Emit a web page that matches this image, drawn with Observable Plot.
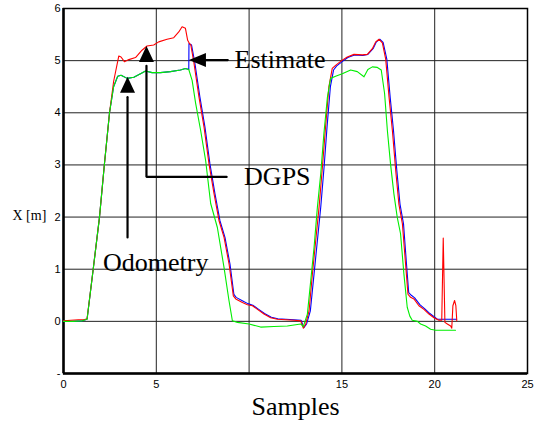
<!DOCTYPE html>
<html>
<head>
<meta charset="utf-8">
<script src="https://cdn.jsdelivr.net/npm/d3@7"></script>
<script src="https://cdn.jsdelivr.net/npm/@observablehq/plot@0.6"></script>
<style>
  html, body { margin: 0; padding: 0; background: #fff; }
  #chart { width: 538px; height: 421px; }
</style>
</head>
<body>
<div id="chart"></div>
<script>
// ---- Data ----
const xTicks = [0, 5, 10, 15, 20, 25];
const xTickLabels = ["0", "5", "", "15", "20", "25"];
const yTicks = [-1, 0, 1, 2, 3, 4, 5, 6];
const yTickLabels = ["-", "0", "1", "2", "3", "4", "5", "6"];

// DGPS (red)
const dgps = [
  [0, 0.01], [0.4, 0.02], [0.8, 0.03], [1.1, 0.03], [1.27, 0.05], [1.6, 1.0], [1.94, 2.0], [2.2, 3.0],
  [2.48, 4.0], [2.7, 4.6], [2.98, 5.09], [3.1, 5.07], [3.28, 4.98], [3.52, 5.02], [3.88, 5.06], [4.23, 5.2],
  [4.5, 5.28], [4.86, 5.30], [5.13, 5.36], [5.58, 5.41], [5.94, 5.44], [6.21, 5.55], [6.39, 5.65], [6.57, 5.62],
  [6.69, 5.39], [6.8, 5.32], [6.86, 5.30], [7.03, 4.95], [7.3, 4.30], [7.57, 3.73], [7.84, 3.02], [8.11, 2.45],
  [8.38, 1.93], [8.65, 1.61], [8.92, 1.10], [9.15, 0.49], [9.28, 0.43], [9.64, 0.36], [9.91, 0.32], [10.18, 0.30],
  [10.45, 0.23], [10.8, 0.14], [11.16, 0.07], [11.52, 0.04], [12.42, 0.02], [12.78, 0.01], [12.92, -0.13], [13.05, -0.05],
  [13.23, 0.20], [13.41, 0.91], [13.59, 1.55], [13.77, 2.19], [13.95, 2.96], [14.12, 3.73], [14.3, 4.50], [14.48, 4.85],
  [14.66, 4.91], [15.02, 5.01], [15.29, 5.07], [15.65, 5.12], [16.1, 5.11], [16.37, 5.12], [16.64, 5.23], [16.82, 5.36],
  [17.0, 5.41], [17.18, 5.34], [17.36, 5.03], [17.54, 4.30], [17.72, 3.66], [17.9, 2.89], [18.07, 2.25], [18.26, 1.87],
  [18.43, 1.10], [18.56, 0.52], [18.7, 0.46], [18.88, 0.43], [19.15, 0.30], [19.42, 0.23], [19.69, 0.14], [19.96, 0.07],
  [20.23, 0.02], [20.38, 0.02], [20.46, 1.6], [20.55, -0.02], [20.68, -0.05], [20.86, -0.09], [20.92, -0.13], [20.98, 0.30],
  [21.07, 0.40], [21.14, 0.30], [21.19, 0.01]
];

// Estimate (blue)
const estimate = [
  [0, 0.0], [0.5, 0.0], [1.0, 0.01], [1.27, 0.04], [1.6, 1.0], [1.94, 2.0], [2.2, 3.0], [2.48, 4.0],
  [2.7, 4.5], [2.92, 4.70], [3.1, 4.72], [3.43, 4.66], [3.79, 4.68], [4.15, 4.75], [4.42, 4.80], [4.77, 4.77],
  [5.22, 4.77], [5.76, 4.79], [6.3, 4.82], [6.57, 4.85], [6.75, 4.83], [6.76, 5.33], [6.9, 5.30], [7.08, 4.95],
  [7.35, 4.30], [7.62, 3.73], [7.89, 3.02], [8.16, 2.45], [8.43, 1.93], [8.7, 1.61], [8.97, 1.10], [9.18, 0.52],
  [9.3, 0.46], [9.66, 0.39], [9.93, 0.34], [10.2, 0.31], [10.48, 0.24], [10.83, 0.15], [11.2, 0.08], [11.55, 0.05],
  [12.42, 0.03], [12.8, 0.02], [12.95, -0.12], [13.1, -0.05], [13.3, 0.20], [13.5, 0.91], [13.68, 1.55], [13.86, 2.19],
  [14.04, 2.96], [14.2, 3.73], [14.38, 4.50], [14.55, 4.82], [14.72, 4.90], [15.05, 4.99], [15.32, 5.06], [15.68, 5.11],
  [16.12, 5.10], [16.4, 5.12], [16.68, 5.23], [16.86, 5.36], [17.04, 5.41], [17.22, 5.35], [17.42, 5.03], [17.6, 4.30],
  [17.78, 3.66], [17.96, 2.89], [18.13, 2.25], [18.32, 1.87], [18.48, 1.10], [18.6, 0.55], [18.74, 0.50], [18.92, 0.45],
  [19.2, 0.32], [19.47, 0.24], [19.74, 0.15], [20.0, 0.08], [20.14, 0.04], [21.18, 0.04]
];

// Odometry (green)
const odometry = [
  [0, 0.0], [0.5, 0.0], [1.0, 0.01], [1.27, 0.04], [1.6, 1.0], [1.94, 2.0], [2.2, 3.0], [2.48, 4.0],
  [2.7, 4.5], [2.92, 4.70], [3.1, 4.72], [3.43, 4.66], [3.79, 4.68], [4.15, 4.75], [4.42, 4.80], [4.77, 4.77],
  [5.22, 4.77], [5.76, 4.79], [6.3, 4.82], [6.57, 4.85], [6.75, 4.83], [6.93, 4.62], [7.12, 4.18], [7.39, 3.66],
  [7.66, 3.08], [7.93, 2.26], [8.29, 1.80], [8.65, 1.03], [8.92, 0.39], [9.1, 0.01], [9.37, -0.02], [10.0, -0.05],
  [10.62, -0.11], [11.34, -0.10], [12.06, -0.09], [12.78, -0.05], [12.92, -0.10], [13.14, 0.14], [13.32, 0.78], [13.5, 1.42],
  [13.68, 2.19], [13.86, 2.83], [14.03, 3.60], [14.22, 4.30], [14.39, 4.66], [14.66, 4.70], [15.02, 4.75], [15.47, 4.82],
  [15.83, 4.79], [16.19, 4.69], [16.4, 4.83], [16.64, 4.88], [16.91, 4.87], [17.12, 4.82], [17.3, 4.37], [17.45, 3.66],
  [17.62, 3.02], [17.8, 2.45], [17.98, 2.0], [18.16, 1.68], [18.34, 0.91], [18.52, 0.27], [18.66, 0.10], [18.79, 0.02],
  [19.07, 0.0], [19.24, -0.05], [19.51, -0.09], [19.78, -0.15], [20.05, -0.17], [21.12, -0.17]
];

// Annotations: labels and arrows (data coordinates)
const labels = [
  {text: "Estimate", x: 9.22, y: 5.01},
  {text: "DGPS", x: 9.73, y: 2.78},
  {text: "Odometry", x: 2.13, y: 1.12}
];
const arrowShafts = [
  {id: "estimate", pts: [[8.85, 5.01], [7.2, 5.01]]},
  {id: "dgps", pts: [[8.79, 2.77], [4.47, 2.77], [4.47, 4.9]]},
  {id: "odometry", pts: [[3.45, 1.61], [3.45, 4.3]]}
];
const arrowHeadsUp = [{x: 4.47, y: 5.28}, {x: 3.45, y: 4.69}];
const arrowHeadsLeft = [{x: 6.76, y: 5.01}];

// ---- Build ----
const toRows = arr => arr.map(([x, y]) => ({x, y}));
const shaftRows = arrowShafts.flatMap(a => a.pts.map(([x, y]) => ({id: a.id, x, y})));

const headUp = {draw(ctx) { ctx.moveTo(0, 0); ctx.lineTo(7.5, 16); ctx.lineTo(-7.5, 16); ctx.closePath(); }};
const headLeft = {draw(ctx) { ctx.moveTo(0, 0); ctx.lineTo(17, -7); ctx.lineTo(17, 7); ctx.closePath(); }};

const serif = "'Liberation Serif', 'Times New Roman', Times, serif";

const chart = Plot.plot({
  width: 538,
  height: 421,
  marginLeft: 63,
  marginRight: 11,
  marginTop: 8,
  marginBottom: 48,
  style: {fontFamily: "'Liberation Sans', Arial, sans-serif", fontSize: "11px", background: "#fff", color: "#000"},
  x: {domain: [0, 25], ticks: xTicks, tickFormat: d => xTickLabels[xTicks.indexOf(d)], tickSize: 0, tickPadding: 7, label: null},
  y: {domain: [-1, 6], ticks: yTicks, tickFormat: d => yTickLabels[yTicks.indexOf(d)], tickSize: 0, tickPadding: 3, label: null},
  marks: [
    Plot.ruleX(xTicks.slice(1, -1), {stroke: "#222", strokeWidth: 1}),
    Plot.ruleY(yTicks.slice(1, -1), {stroke: "#222", strokeWidth: 1}),
    Plot.frame({stroke: "#000", strokeWidth: 1.5}),
    Plot.ruleX([0], {stroke: "#000", strokeWidth: 2.5}),
    Plot.ruleY([-1], {stroke: "#000", strokeWidth: 2.5}),
    Plot.line(toRows(estimate), {x: "x", y: "y", stroke: "#0000ff", strokeWidth: 1.1}),
    Plot.line(toRows(dgps), {x: "x", y: "y", stroke: "#ff0000", strokeWidth: 1.1}),
    Plot.line(toRows(odometry), {x: "x", y: "y", stroke: "#00ee00", strokeWidth: 1.1}),
    Plot.line(shaftRows, {x: "x", y: "y", z: "id", stroke: "#000", strokeWidth: 2.2, strokeLinejoin: "miter"}),
    Plot.dot(arrowHeadsUp, {x: "x", y: "y", symbol: headUp, fill: "#000", stroke: "none"}),
    Plot.dot(arrowHeadsLeft, {x: "x", y: "y", symbol: headLeft, fill: "#000", stroke: "none"}),
    Plot.text(labels, {x: "x", y: "y", text: "text", textAnchor: "start", fontFamily: serif, fontSize: 26, fill: "#000"}),
    Plot.text(["Samples"], {frameAnchor: "bottom", lineAnchor: "middle", dy: 33, fontFamily: serif, fontSize: 26, fill: "#000"}),
    Plot.text(["X [m]"], {frameAnchor: "left", textAnchor: "start", lineAnchor: "middle", dx: -51, dy: 24.5, fontFamily: serif, fontSize: 14, fill: "#000"})
  ]
});
document.getElementById("chart").appendChild(chart);
</script>
</body>
</html>
